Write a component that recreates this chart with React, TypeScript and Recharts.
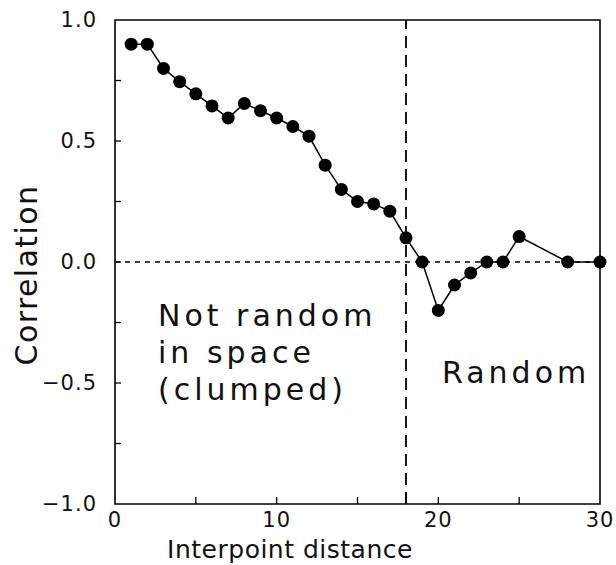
import { LineChart, Line, XAxis, YAxis, ReferenceLine, ReferenceArea, Customized } from "recharts";

const distance = [1, 2, 3, 4, 5, 6, 7, 8, 9, 10, 11, 12, 13, 14, 15, 16, 17, 18, 19, 20, 21, 22, 23, 24, 25, 28, 30];
const correlation = [
  0.9, 0.9, 0.8, 0.745, 0.695, 0.645, 0.595, 0.655, 0.625, 0.595, 0.56, 0.52, 0.4, 0.3, 0.25, 0.24, 0.21, 0.1, 0.0,
  -0.2, -0.095, -0.045, 0.0, 0.0, 0.105, 0.0, 0.0,
];
const xTicks = [0, 5, 10, 15, 18, 20, 25, 30];
const yTicks = [-1, -0.75, -0.5, -0.25, 0, 0.25, 0.5, 0.75, 1];
const boundary = 18;

const data = distance.map((d, i) => ({ d, r: correlation[i] }));

const FONT = "'DejaVu Sans', sans-serif";

function XTick({ x, y, payload }: any) {
  const v = payload.value;
  const len = v === boundary ? 12 : 7;
  return (
    <g>
      {v !== 0 && v !== 30 && <line x1={x} x2={x} y1={y} y2={y - len} stroke="#000" strokeWidth={1.3} />}
      {v % 10 === 0 && (
        <text x={x} y={y + 23} textAnchor="middle" fontSize={21} fontFamily={FONT} letterSpacing={1} fill="#111">
          {v}
        </text>
      )}
    </g>
  );
}

function YTick({ x, y, payload }: any) {
  const v = payload.value;
  const labeled = Math.abs(v * 2 - Math.round(v * 2)) < 1e-6;
  return (
    <g>
      {v !== -1 && v !== 1 && <line x1={x} x2={x + 6} y1={y} y2={y} stroke="#000" strokeWidth={1.3} />}
      {labeled && (
        <text x={x - 18} y={y + 7} textAnchor="end" fontSize={21} fontFamily={FONT} letterSpacing={1} fill="#111">
          {v.toFixed(1).replace("-", "\u2212")}
        </text>
      )}
    </g>
  );
}

function Notes() {
  const t = { fontSize: 30, fontFamily: FONT, letterSpacing: 4, fill: "#111" };
  return (
    <g>
      <text x={158} y={326} {...t}>Not random</text>
      <text x={158} y={363} {...t}>in space</text>
      <text x={158} y={400} {...t}>(clumped)</text>
      <text x={442} y={383} {...t}>Random</text>
      <text x={290} y={558} textAnchor="middle" fontSize={25} fontFamily={FONT} letterSpacing={0.5} fill="#111">
        Interpoint distance
      </text>
      <text
        x={0}
        y={0}
        transform="translate(37,275) rotate(-90)"
        textAnchor="middle"
        fontSize={30}
        fontFamily={FONT}
        letterSpacing={1.4}
        fill="#111"
      >
        Correlation
      </text>
    </g>
  );
}

export default function App() {
  return (
    <div style={{ width: 616, height: 565, background: "#fff" }}>
      <style>{"body{margin:0}"}</style>
      <LineChart width={616} height={565} data={data} margin={{ top: 20, right: 16, left: 0, bottom: 0 }}>
        <XAxis
          type="number"
          dataKey="d"
          domain={[0, 30]}
          ticks={xTicks}
          interval={0}
          tickSize={0}
          tickMargin={0}
          axisLine={false}
          tickLine={false}
          tick={<XTick />}
          height={61}
        />
        <YAxis
          type="number"
          domain={[-1, 1]}
          ticks={yTicks}
          interval={0}
          tickSize={0}
          tickMargin={0}
          axisLine={false}
          tickLine={false}
          tick={<YTick />}
          width={115}
        />
        <ReferenceArea x1={0} x2={30} y1={-1} y2={1} fill="none" fillOpacity={0} stroke="#000" strokeWidth={1.6} />
        <ReferenceLine y={0} stroke="#000" strokeWidth={1.3} strokeDasharray="5 5" />
        <ReferenceLine x={boundary} stroke="#000" strokeWidth={1.8} strokeDasharray="12 7" />
        <Line
          type="linear"
          dataKey="r"
          stroke="#000"
          strokeWidth={1.5}
          dot={{ r: 6.5, fill: "#000", stroke: "#000", strokeWidth: 0 }}
          isAnimationActive={false}
        />
        <Customized component={<Notes />} />
      </LineChart>
    </div>
  );
}
